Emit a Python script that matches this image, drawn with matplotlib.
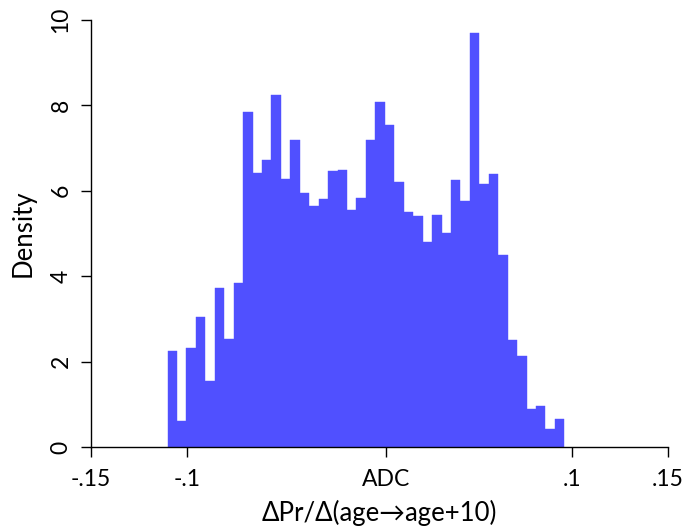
import numpy as np
import matplotlib
matplotlib.use("Agg")
import matplotlib.pyplot as plt

plt.rcParams['font.family'] = ['Lato', 'DejaVu Sans']

# histogram bin range and densities
bin_lo, bin_hi = -0.1102, 0.0961
density = [2.25, 0.62, 2.33, 3.04, 1.55, 3.72, 2.54, 3.85, 7.85, 6.42,
           6.71, 8.24, 6.28, 7.19, 5.95, 5.64, 5.81, 6.46, 6.49, 5.55,
           5.82, 7.19, 8.08, 7.54, 6.21, 5.50, 5.41, 4.81, 5.43, 5.00,
           6.25, 5.75, 9.70, 6.16, 6.39, 4.50, 2.51, 2.13, 0.89, 0.96,
           0.41, 0.66]

xticks = [-0.15, -0.1, 0.0034, 0.1, 0.15]
xtick_labels = ["-.15", "-.1", "ADC", ".1", ".15"]
yticks = [0, 2, 4, 6, 8, 10]

edges = np.linspace(bin_lo, bin_hi, len(density) + 1)

fig = plt.figure(figsize=(6.91, 5.27), dpi=100)
ax = fig.add_axes([91 / 691, 80 / 527, 577 / 691, 427 / 527])

ax.bar(edges[:-1], density, width=np.diff(edges), align="edge",
       color="#5050FF", edgecolor="#5050FF", linewidth=0.3)

ax.set_xlim(-0.15, 0.15)
ax.set_ylim(0, 10)
ax.set_xticks(xticks)
ax.set_xticklabels(xtick_labels)
ax.set_yticks(yticks)
ax.set_yticklabels([str(v) for v in yticks], rotation=90, va="center")

for side in ["top", "right"]:
    ax.spines[side].set_visible(False)
ax.spines["left"].set_linewidth(1.0)
ax.spines["bottom"].set_linewidth(1.0)
ax.tick_params(direction="out", length=7, width=1.0, labelsize=16.5)
ax.tick_params(axis="x", pad=9)
ax.tick_params(axis="y", pad=7)

ax.set_xlabel("ΔPr/Δ(age→age+10)", fontsize=18.5, labelpad=7)
ax.set_ylabel("Density", fontsize=18.5, labelpad=11)

fig.savefig("out.png", dpi=100)
